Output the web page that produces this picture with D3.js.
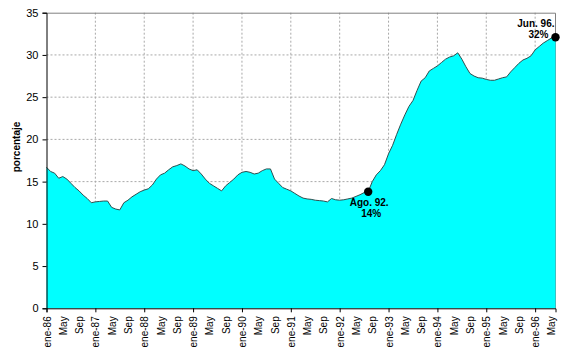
<!DOCTYPE html>
<html>
<head>
<meta charset="utf-8">
<script src="https://cdn.jsdelivr.net/npm/d3@7"></script>
<style>
  body { margin: 0; background: #fff; }
  svg { font-family: Arial, "Liberation Sans", sans-serif; }
</style>
</head>
<body>
<div id="chart"></div>
<script>
// Monthly series, ene-86 .. jun-96 (porcentaje)
const rate = [
    16.7, 16.2, 16.0, 15.4, 15.6, 15.3, 14.8, 14.3, 13.9, 13.4, 13.0, 12.5,   // 1986
    12.6, 12.65, 12.7, 12.7, 11.95, 11.75, 11.65, 12.5, 12.8, 13.2, 13.5, 13.8, // 1987
    14.0, 14.15, 14.6, 15.3, 15.8, 16.0, 16.4, 16.75, 16.9, 17.1, 16.85, 16.5, // 1988
    16.3, 16.4, 15.9, 15.3, 14.8, 14.5, 14.2, 13.9, 14.5, 14.9, 15.3, 15.8,   // 1989
    16.1, 16.2, 16.1, 15.9, 16.0, 16.3, 16.5, 16.5, 15.3, 14.8, 14.3, 14.1,   // 1990
    13.9, 13.6, 13.3, 13.05, 12.95, 12.9, 12.8, 12.75, 12.7, 12.6, 13.0, 12.85, // 1991
    12.8, 12.85, 12.95, 13.05, 13.25, 13.45, 13.7, 13.8, 15.0, 15.8, 16.3, 17.0, // 1992
    18.3, 19.3, 20.6, 21.8, 22.9, 23.9, 24.6, 25.8, 26.9, 27.3, 28.1, 28.4,   // 1993
    28.7, 29.1, 29.5, 29.75, 29.9, 30.25, 29.5, 28.6, 27.8, 27.5, 27.3, 27.25, // 1994
    27.1, 27.0, 27.0, 27.15, 27.3, 27.4, 28.0, 28.5, 29.0, 29.4, 29.6, 29.9,  // 1995
    30.6, 31.0, 31.4, 31.7, 32.0, 32.1                                        // 1996
];

// one label every 4 months
const tickLabels = [
    "ene-86", "May", "Sep", "ene-87", "May", "Sep", "ene-88", "May", "Sep",
    "ene-89", "May", "Sep", "ene-90", "May", "Sep", "ene-91", "May", "Sep",
    "ene-92", "May", "Sep", "ene-93", "May", "Sep", "ene-94", "May", "Sep",
    "ene-95", "May", "Sep", "ene-96", "May"
];

const yTicks = [0, 5, 10, 15, 20, 25, 30, 35];

// highlighted points: month index and label lines
const highlights = [
    {month: 79, lines: ["Ago. 92.", "14%"]},
    {month: 125, lines: ["Jun. 96.", "32%"]}
];

const totalW = 567, totalH = 353;
const margin = {top: 12.7, right: 11.5, bottom: 44.7, left: 46.5};
const width = totalW - margin.left - margin.right,
    height = totalH - margin.top - margin.bottom;

const svg = d3.select("#chart")
    .append("svg")
    .attr("width", totalW)
    .attr("height", totalH)
    .append("g")
    .attr("transform", "translate(" + margin.left + "," + margin.top + ")");

const x = d3.scaleLinear().domain([0, rate.length - 1]).range([0, width]);
const y = d3.scaleLinear().domain([0, 35]).range([height, 0]);

// gridlines
svg.append("g")
    .selectAll("line")
    .data(yTicks.filter(d => d > 0 && d < 35))
    .enter()
    .append("line")
    .attr("x1", 0).attr("x2", width)
    .attr("y1", d => y(d)).attr("y2", d => y(d))
    .attr("stroke", "#a8a8a8")
    .attr("stroke-dasharray", "2,2");

svg.append("g")
    .selectAll("line")
    .data(d3.range(12, rate.length, 12))
    .enter()
    .append("line")
    .attr("x1", d => x(d)).attr("x2", d => x(d))
    .attr("y1", 0).attr("y2", height)
    .attr("stroke", "#a8a8a8")
    .attr("stroke-dasharray", "2,2");

// plot border (top and right)
svg.append("path")
    .attr("d", "M0,0.5H" + width + "V" + height)
    .attr("fill", "none")
    .attr("stroke", "#808080")
    .attr("stroke-width", 1);

// area
const area = d3.area()
    .x((d, i) => x(i))
    .y0(y(0))
    .y1(d => y(d));

svg.append("path")
    .datum(rate)
    .attr("d", area)
    .attr("fill", "#00ffff")
    .attr("stroke", "none");

const line = d3.line()
    .x((d, i) => x(i))
    .y(d => y(d));

svg.append("path")
    .datum(rate)
    .attr("d", line)
    .attr("fill", "none")
    .attr("stroke", "#2f4f4f")
    .attr("stroke-width", 1);

// y axis
const yAxis = svg.append("g")
    .call(d3.axisLeft(y).tickValues(yTicks).tickSize(4).tickPadding(4));
yAxis.select(".domain").attr("stroke", "#000");
yAxis.selectAll("text")
    .style("font-size", "11px")
    .style("fill", "#000");

// x axis: tick marks every year, labels every 4 months
const xTickAxis = svg.append("g")
    .attr("transform", "translate(0," + height + ")")
    .call(d3.axisBottom(x).tickValues(d3.range(0, rate.length, 12)).tickSize(4).tickFormat(""));
xTickAxis.select(".domain").attr("stroke", "#000");

const xLabelAxis = svg.append("g")
    .attr("transform", "translate(0," + height + ")")
    .call(d3.axisBottom(x)
        .tickValues(d3.range(0, rate.length, 4))
        .tickSize(0)
        .tickFormat((d, i) => tickLabels[i]));
xLabelAxis.select(".domain").remove();
xLabelAxis.selectAll("text")
    .attr("transform", "rotate(-90)")
    .attr("x", -8)
    .attr("y", 0)
    .attr("dy", "0.35em")
    .style("text-anchor", "end")
    .style("font-size", "10px")
    .style("fill", "#000");

// y axis title
svg.append("text")
    .attr("transform", "translate(" + (16 - margin.left) + "," + (147 - margin.top) + ") rotate(-90)")
    .attr("text-anchor", "middle")
    .attr("dy", "0.35em")
    .style("font-size", "10px")
    .style("font-weight", "bold")
    .text("porcentaje");

// highlighted points
svg.selectAll("circle.hl")
    .data(highlights)
    .enter()
    .append("circle")
    .attr("class", "hl")
    .attr("cx", d => x(d.month))
    .attr("cy", d => y(rate[d.month]))
    .attr("r", 4.2)
    .attr("fill", "#000");

// Ago. 92. label below the point
const h0 = highlights[0];
svg.append("text")
    .attr("x", x(h0.month) + 1)
    .attr("y", y(rate[h0.month]) + 14)
    .attr("text-anchor", "middle")
    .style("font-size", "10px")
    .style("font-weight", "bold")
    .text(h0.lines[0]);
svg.append("text")
    .attr("x", x(h0.month) + 3)
    .attr("y", y(rate[h0.month]) + 25)
    .attr("text-anchor", "middle")
    .style("font-size", "10px")
    .style("font-weight", "bold")
    .text(h0.lines[1]);

// Jun. 96. label above-left
const h1 = highlights[1];
svg.append("text")
    .attr("x", x(h1.month) - 1)
    .attr("y", y(rate[h1.month]) - 10.5)
    .attr("text-anchor", "end")
    .style("font-size", "10px")
    .style("font-weight", "bold")
    .text(h1.lines[0]);
svg.append("text")
    .attr("x", x(h1.month) - 7)
    .attr("y", y(rate[h1.month]) + 0.5)
    .attr("text-anchor", "end")
    .style("font-size", "10px")
    .style("font-weight", "bold")
    .text(h1.lines[1]);
</script>
</body>
</html>
